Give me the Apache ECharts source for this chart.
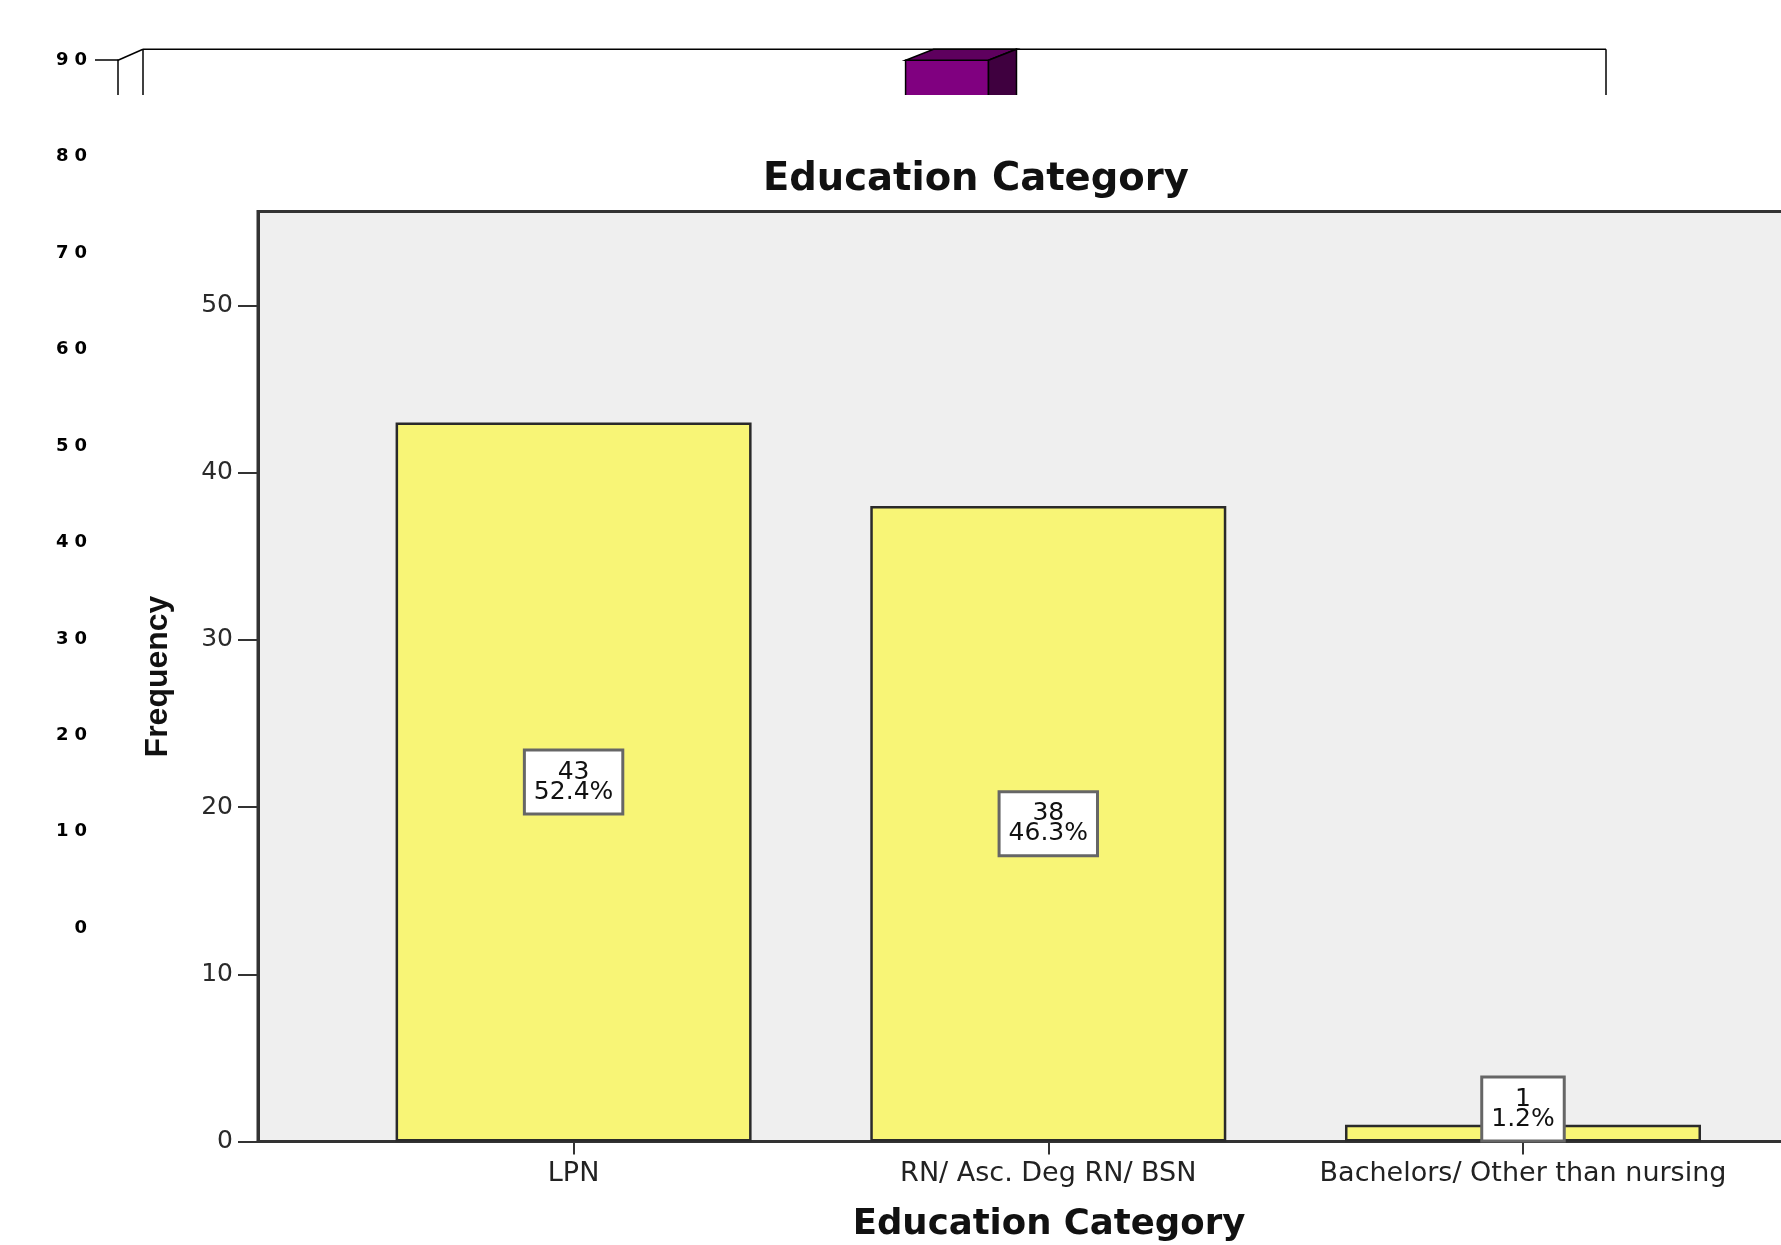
<!DOCTYPE html>
<html>
<head>
<meta charset="utf-8">
<script src="https://cdn.jsdelivr.net/npm/echarts@6/dist/echarts.min.js"></script>
<style>
  html, body { margin: 0; padding: 0; background: #ffffff; }
  #chart { width: 1781px; height: 1245px; }
</style>
</head>
<body>
<div id="chart"></div>
<script>
// Education Category frequencies
const categories = ['LPN', 'RN/ Asc. Deg RN/ BSN', 'Bachelors/ Other than nursing'];
const counts = [43, 38, 1];
const yTicks = [0, 10, 20, 30, 40, 50];

// 3D column chart lying underneath (only its top strip and scale show)
const backCategories = ['1', '2', '3', '4', '5', '6', '7', '8', '9', '10', '11', '12', '13', '14', '15'];
const backValues = [null, null, null, null, null, null, null, null, 90, null, null, null, null, null, null];
const backTicks = [0, 10, 20, 30, 40, 50, 60, 70, 80, 90];

const total = counts.reduce((a, b) => a + b, 0);
const tickPositions = categories.map((c, i) => i + 1);

const chart = echarts.init(document.getElementById('chart'), null, { renderer: 'canvas' });

const barData = counts.map((v, i) => {
  const item = { value: [i + 1, v] };
  if (v < 5) item.label = { position: 'insideBottom', distance: 2 };
  return item;
});

const backData = [];
backValues.forEach((v, i) => { if (v != null) backData.push([i, v]); });
const backTop = backTicks[backTicks.length - 1];

const DEPTH_X = 26, DEPTH_Y = 11;

const option = {
  animation: false,
  backgroundColor: '#ffffff',
  title: {
    text: 'Education Category',
    left: 758,
    top: 155,
    textStyle: { fontFamily: 'DejaVu Sans', fontWeight: 'bold', fontSize: 38.5, color: '#111' },
    z: 8
  },
  graphic: [{
    type: 'rect',
    shape: { x: 95, y: 95, width: 1700, height: 1160 },
    style: { fill: '#ffffff' },
    z: 3,
    silent: true
  }],
  grid: [
    {
      left: 258, top: 211.5, right: -59, bottom: 103.5,
      outerBoundsMode: 'none',
      show: true, backgroundColor: '#efefef', borderColor: '#333', borderWidth: 3,
      z: 5
    },
    {
      left: 118, top: 60.2, width: 1463, height: 868,
      outerBoundsMode: 'none',
      show: false, z: 0
    }
  ],
  xAxis: [
    {
      type: 'value', gridIndex: 0, min: 0.3352, max: 3.6678,
      axisLine: { show: true, onZero: false, lineStyle: { color: '#333', width: 3 } },
      axisTick: { show: true, customValues: tickPositions, length: 13, lineStyle: { color: '#333', width: 2 } },
      axisLabel: {
        customValues: tickPositions,
        formatter: v => categories[Math.round(v) - 1] || '',
        margin: 19, fontFamily: 'DejaVu Sans', fontSize: 27, color: '#222'
      },
      splitLine: { show: false },
      name: 'Education Category', nameLocation: 'middle', nameGap: 65,
      nameTextStyle: { fontFamily: 'DejaVu Sans', fontWeight: 'bold', fontSize: 35.5, color: '#111' },
      z: 6
    },
    {
      type: 'category', gridIndex: 1, data: backCategories, show: false
    }
  ],
  yAxis: [
    {
      type: 'value', gridIndex: 0, min: 0, max: 55.62,
      axisLine: { show: true, lineStyle: { color: '#333', width: 3 } },
      axisTick: { show: true, customValues: yTicks, length: 20, lineStyle: { color: '#333', width: 2 } },
      axisLabel: { customValues: yTicks, margin: 25, fontFamily: 'DejaVu Sans', fontSize: 25, color: '#2a2a2a' },
      splitLine: { show: false },
      name: 'Frequency', nameLocation: 'middle', nameGap: 84,
      nameTextStyle: { fontFamily: 'Liberation Sans', fontWeight: 'bold', fontSize: 32, color: '#111' },
      z: 6
    },
    {
      type: 'value', gridIndex: 1, min: 0, max: backTop, interval: 10,
      axisLine: { show: true, lineStyle: { color: '#000', width: 1.5 } },
      axisTick: { show: true, length: 23, lineStyle: { color: '#000', width: 1.5 } },
      axisLabel: {
        margin: 28,
        formatter: v => String(v).split('').map(ch => '{d|' + ch + '}').join(''),
        rich: { d: { fontFamily: 'DejaVu Sans', fontWeight: 'bold', fontSize: 18, color: '#000', padding: [0, 3] } }
      },
      splitLine: { show: false },
      z: 0
    }
  ],
  series: [
    {
      type: 'bar', xAxisIndex: 0, yAxisIndex: 0,
      data: barData,
      barWidth: 356,
      itemStyle: { color: '#f8f576', borderColor: '#2a2a2a', borderWidth: 2.5 },
      label: {
        show: true, position: 'inside',
        formatter: p => p.value[1] + '\n' + (p.value[1] / total * 100).toFixed(1) + '%',
        fontFamily: 'DejaVu Sans', fontSize: 25, lineHeight: 20, color: '#111',
        backgroundColor: '#ffffff', borderColor: '#666', borderWidth: 3,
        padding: [11, 8, 10, 8]
      },
      z: 7
    },
    {
      // back walls of the 3D frame
      type: 'custom', xAxisIndex: 1, yAxisIndex: 1,
      data: [[0, backTop]],
      renderItem: (params, api) => {
        const cs = params.coordSys;
        const top = api.coord([0, api.value(1)])[1];
        const left = cs.x, right = cs.x + cs.width, bottom = cs.y + cs.height;
        const ls = { stroke: '#000', lineWidth: 1.5 };
        return {
          type: 'group',
          children: [
            { type: 'line', shape: { x1: left, y1: top, x2: left + DEPTH_X - 1, y2: top - DEPTH_Y }, style: ls },
            { type: 'line', shape: { x1: left + DEPTH_X - 1, y1: top - DEPTH_Y, x2: left + DEPTH_X - 1, y2: bottom - DEPTH_Y }, style: ls },
            { type: 'line', shape: { x1: left + DEPTH_X - 1, y1: top - DEPTH_Y, x2: right + DEPTH_X - 1, y2: top - DEPTH_Y }, style: ls },
            { type: 'line', shape: { x1: right + DEPTH_X - 1, y1: top - DEPTH_Y, x2: right + DEPTH_X - 1, y2: bottom - DEPTH_Y }, style: ls }
          ]
        };
      },
      silent: true, z: 1
    },
    {
      // 3D column
      type: 'custom', xAxisIndex: 1, yAxisIndex: 1,
      data: backData,
      renderItem: (params, api) => {
        const p = api.coord([api.value(0), api.value(1)]);
        const b = api.coord([api.value(0), 0]);
        const w = api.size([1, 0])[0] * 0.85;
        const x0 = p[0] - w / 2, x1 = p[0] + w / 2;
        const dx = DEPTH_X + 2, dy = DEPTH_Y;
        return {
          type: 'group',
          children: [
            { type: 'rect', shape: { x: x0, y: p[1], width: w, height: b[1] - p[1] },
              style: { fill: '#800080', stroke: '#000', lineWidth: 1.5 } },
            { type: 'polygon', shape: { points: [[x0, p[1]], [x1, p[1]], [x1 + dx, p[1] - dy], [x0 + dx, p[1] - dy]] },
              style: { fill: '#5e005e', stroke: '#000', lineWidth: 1.5 } },
            { type: 'polygon', shape: { points: [[x1, p[1]], [x1 + dx, p[1] - dy], [x1 + dx, b[1] - dy], [x1, b[1]]] },
              style: { fill: '#3f003f', stroke: '#000', lineWidth: 1.5 } }
          ]
        };
      },
      silent: true, z: 1
    }
  ]
};

chart.setOption(option);
</script>
</body>
</html>
